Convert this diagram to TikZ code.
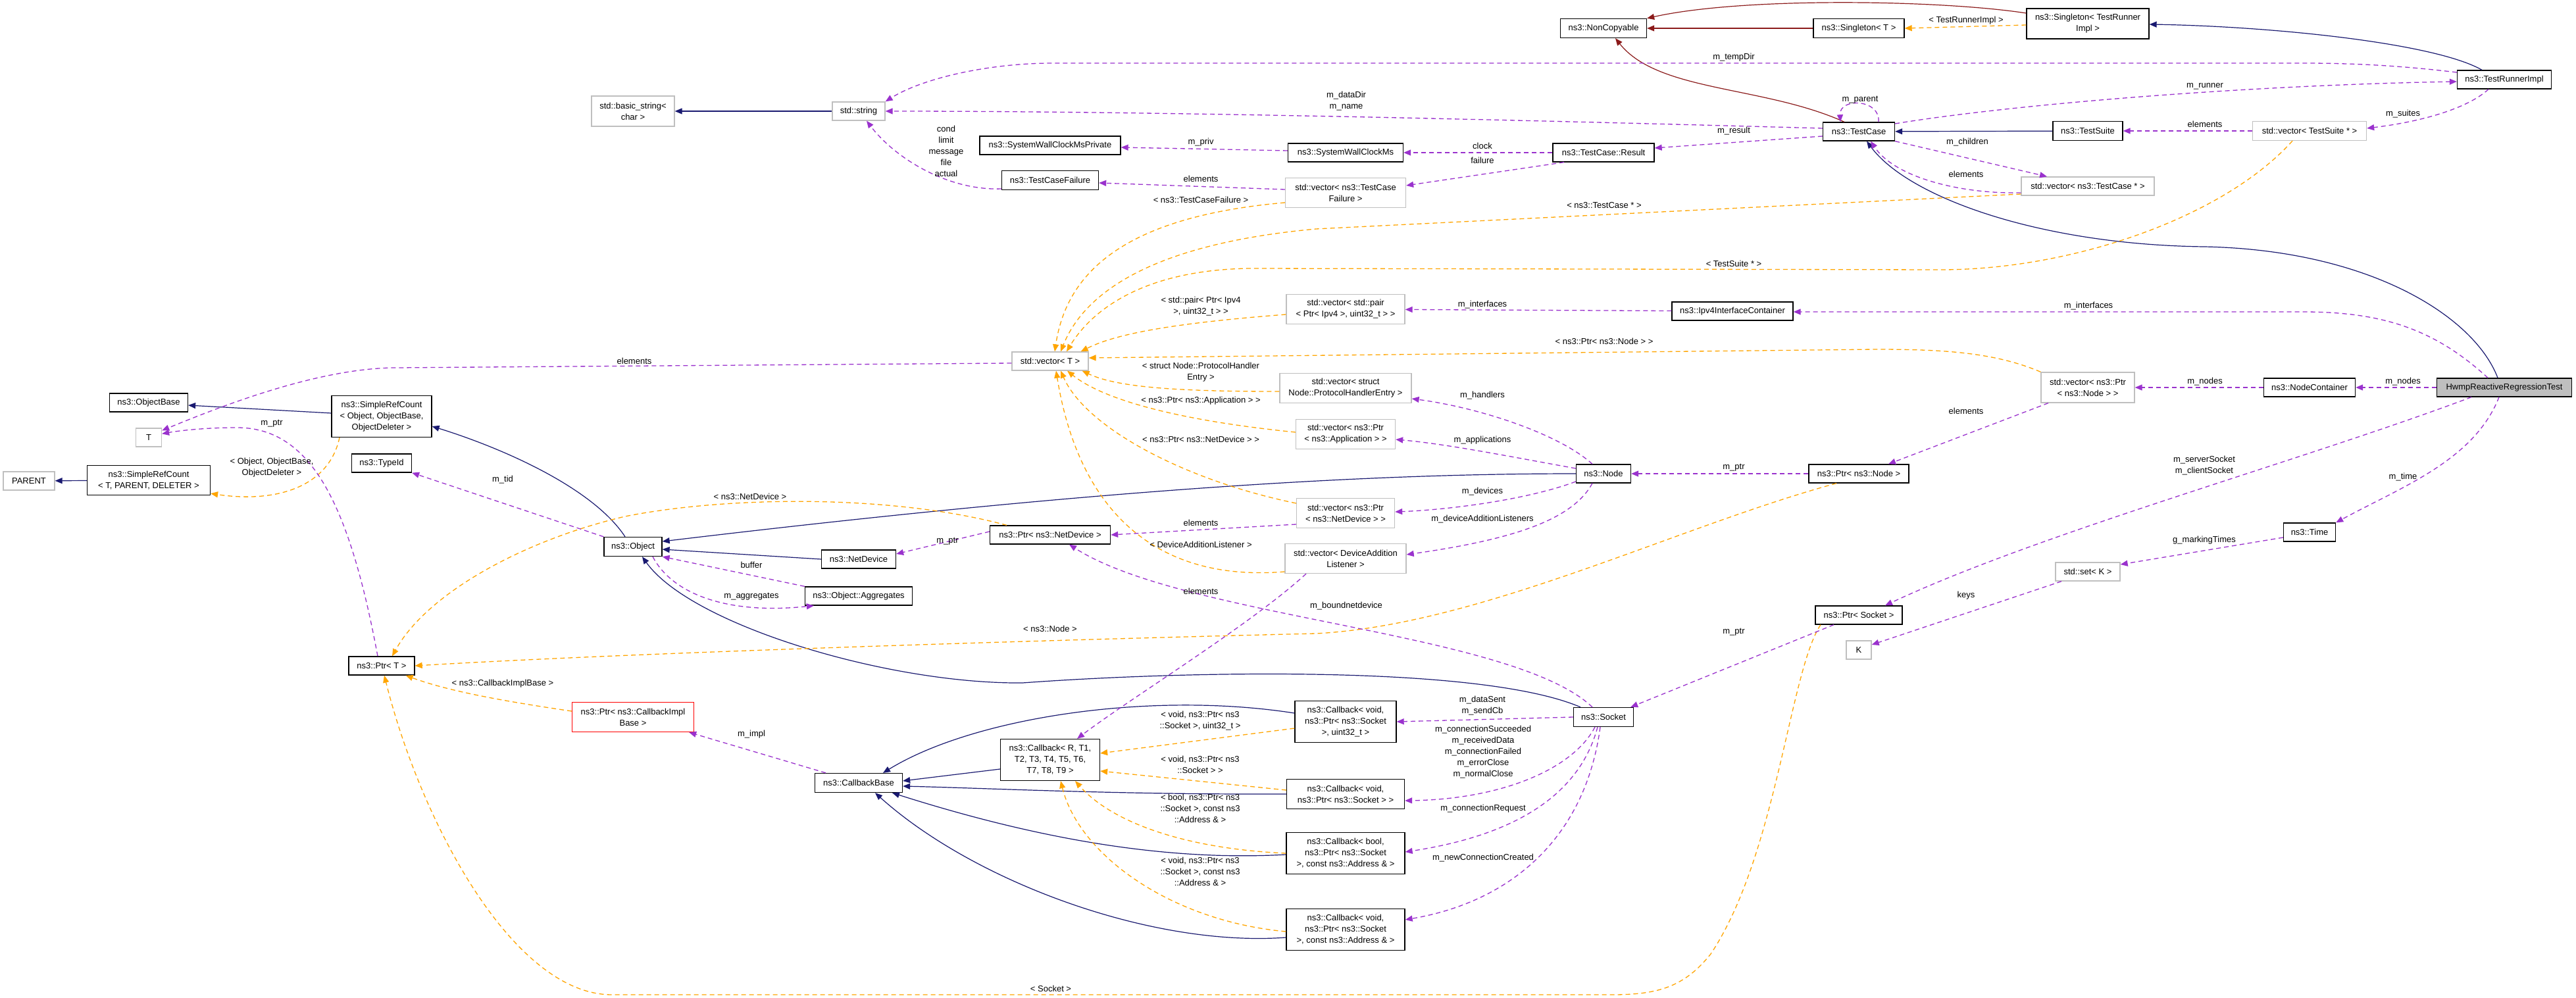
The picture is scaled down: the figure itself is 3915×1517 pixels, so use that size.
\documentclass[tikz,border=0pt]{standalone}
\usepackage{fontspec}
\setmainfont{Liberation Sans}
\usepackage{tikz}
\usetikzlibrary{arrows.meta,positioning}
\definecolor{Navy}{RGB}{25,25,112}
\definecolor{Orchid}{RGB}{154,50,205}
\definecolor{Amber}{RGB}{255,165,0}
\definecolor{Brick}{RGB}{139,26,26}
\definecolor{Ash}{RGB}{191,191,191}

\begin{document}
\begin{tikzpicture}[x=1pt,y=-1pt,
  font=\fontsize{13}{17}\selectfont,
  cls/.style={draw=black,line width=1.3pt,fill=white,align=center,inner sep=3pt,minimum height=28pt},
  ext/.style={cls,draw=Ash},
  sz/.style 2 args={minimum width=#1pt,minimum height=#2pt},
  lab/.style={align=center,inner sep=0pt},
  inh/.style={Navy,line width=1.2pt,-{Triangle[length=11pt,width=9pt]}},
  prv/.style={Brick,line width=1.2pt,-{Triangle[length=11pt,width=9pt]}},
  usg/.style={Orchid,line width=1.3pt,dash pattern=on 7pt off 5pt,-{Triangle[length=11pt,width=9pt]}},
  tpl/.style={Amber,line width=1.3pt,dash pattern=on 7pt off 5pt,-{Triangle[length=11pt,width=9pt]}}]
\fill[white,use as bounding box] (0,0) rectangle (3915,1517);
%
% classes
\node[ext,sz={126}{46}] (bstr) at (962,169) {std::basic\_string<\\char >};
\node[ext,sz={80}{28}] (str) at (1305,169) {std::string};
\node[cls,sz={214}{28}] (swcmp) at (1596,221) {ns3::SystemWallClockMsPrivate};
\node[cls,sz={147}{29}] (tcf) at (1596,274) {ns3::TestCaseFailure};
\node[cls,sz={131}{29}] (noncp) at (2437,43) {ns3::NonCopyable};
\node[cls,sz={138}{29}] (sgt) at (2825,43) {ns3::Singleton< T >};
\node[cls,sz={186}{46}] (sgtr) at (3173,36) {ns3::Singleton< TestRunner\\Impl >};
\node[cls,sz={143}{28}] (tri) at (3806,121) {ns3::TestRunnerImpl};
\node[cls,sz={109}{28}] (tc) at (2825,200) {ns3::TestCase};
\node[cls,sz={154}{28}] (tcr) at (2437,232) {ns3::TestCase::Result};
\node[cls,sz={175}{28}] (swcm) at (2045,232) {ns3::SystemWallClockMs};
\node[ext,sz={183}{45}] (vtcf) at (2045,293) {std::vector< ns3::TestCase\\Failure >};
\node[cls,sz={106}{29}] (ts) at (3173,199) {ns3::TestSuite};
\node[ext,sz={173}{29}] (vts) at (3510,199) {std::vector< TestSuite * >};
\node[ext,sz={202}{28}] (vtc) at (3173,283) {std::vector< ns3::TestCase * >};
\node[ext,sz={180}{45}] (vpair) at (2045,470) {std::vector< std::pair\\< Ptr< Ipv4 >, uint32\_t > >};
\node[cls,sz={184}{28}] (ipv4) at (2633,473) {ns3::Ipv4InterfaceContainer};
\node[ext,sz={116}{28}] (vt) at (1596,549) {std::vector< T >};
\node[ext,sz={142}{46}] (vnode) at (3173,589) {std::vector< ns3::Ptr\\< ns3::Node > >};
\node[cls,sz={139}{28}] (nc) at (3510,589) {ns3::NodeContainer};
\node[cls,sz={205}{28},fill=Ash] (hwmp) at (3806,589) {HwmpReactiveRegressionTest};
\node[ext,sz={200}{45}] (vhdl) at (2045,590) {std::vector< struct\\Node::ProtocolHandlerEntry >};
\node[ext,sz={151}{45}] (vapp) at (2045,660) {std::vector< ns3::Ptr\\< ns3::Application > >};
\node[cls,sz={83}{28}] (node) at (2437,720) {ns3::Node};
\node[cls,sz={152}{28}] (pnode) at (2825,720) {ns3::Ptr< ns3::Node >};
\node[ext,sz={149}{45}] (vdev) at (2045,780) {std::vector< ns3::Ptr\\< ns3::NetDevice > >};
\node[ext,sz={184}{45}] (vdal) at (2045,849) {std::vector< DeviceAddition\\Listener >};
\node[cls,sz={79}{28}] (time) at (3510,809) {ns3::Time};
\node[ext,sz={98}{28}] (setk) at (3173,869) {std::set< K >};
\node[cls,sz={132}{28}] (psock) at (2825,935) {ns3::Ptr< Socket >};
\node[ext,sz={38}{28}] (kk) at (2825,988) {K};
\node[cls,sz={183}{28}] (pdev) at (1596,813) {ns3::Ptr< ns3::NetDevice >};
\node[cls,sz={113}{28}] (ndev) at (1305,850) {ns3::NetDevice};
\node[cls,sz={163}{28}] (aggr) at (1305,906) {ns3::Object::Aggregates};
\node[cls,sz={88}{29}] (obj) at (962,831) {ns3::Object};
\node[cls,sz={119}{28}] (obase) at (226,612) {ns3::ObjectBase};
\node[cls,sz={152}{63}] (srco) at (580,633) {ns3::SimpleRefCount\\< Object, ObjectBase,\\ObjectDeleter >};
\node[ext,sz={39}{28}] (tt) at (226,665) {T};
\node[cls,sz={91}{28}] (tid) at (580,704) {ns3::TypeId};
\node[ext,sz={78}{28}] (parent) at (44,731) {PARENT};
\node[cls,sz={187}{45}] (srct) at (226,730) {ns3::SimpleRefCount\\< T, PARENT, DELETER >};
\node[cls,sz={100}{28}] (ptrt) at (580,1012) {ns3::Ptr< T >};
\node[cls,sz={185}{45},draw=red] (pcib) at (962,1090) {ns3::Ptr< ns3::CallbackImpl\\Base >};
\node[cls,sz={133}{29}] (cbb) at (1305,1190) {ns3::CallbackBase};
\node[cls,sz={151}{63}] (cbr) at (1596,1155) {ns3::Callback< R, T1,\\T2, T3, T4, T5, T6,\\T7, T8, T9 >};
\node[cls,sz={154}{63}] (cbsent) at (2045,1097) {ns3::Callback< void,\\ns3::Ptr< ns3::Socket\\>, uint32\_t >};
\node[cls,sz={179}{45}] (cbsock) at (2045,1207) {ns3::Callback< void,\\ns3::Ptr< ns3::Socket > >};
\node[cls,sz={180}{63}] (cbreq) at (2045,1297) {ns3::Callback< bool,\\ns3::Ptr< ns3::Socket\\>, const ns3::Address \& >};
\node[cls,sz={180}{63}] (cbnew) at (2045,1413) {ns3::Callback< void,\\ns3::Ptr< ns3::Socket\\>, const ns3::Address \& >};
\node[cls,sz={91}{29}] (sock) at (2437,1090) {ns3::Socket};
%
% public inheritance
\draw[inh] (str) -- (bstr);
\draw[inh] (ts) -- (tc);
\draw[inh] (ndev.west) -- ([yshift=-4pt]obj.east);
\draw[inh] (node.west) .. controls (2100,720) and (1700,740) .. ([yshift=8pt]obj.east);
\draw[inh] ([yshift=-14pt]cbr.west) -- ([yshift=3pt]cbb.east);
\draw[inh] (cbsock.west) .. controls (1700,1208) and (1500,1198) .. ([yshift=-5pt]cbb.east);
\draw[inh] ([yshift=13pt]cbsent.west) .. controls (1750,1050) and (1480,1090) .. ([xshift=37pt]cbb.north);
\draw[inh] ([yshift=-2pt]cbreq.west) .. controls (1760,1310) and (1560,1270) .. ([xshift=51pt]cbb.south);
\draw[inh] ([yshift=-12pt]cbnew.west) .. controls (1750,1440) and (1480,1340) .. ([xshift=25pt]cbb.south);
\draw[inh] ([xshift=-12pt]obj.north) .. controls (900,740) and (760,680) .. ([yshift=-15pt]srco.east);
\draw[inh] ([yshift=5pt]srco.west) -- ([yshift=-4pt]obase.east);
\draw[inh] (srct) -- (parent);
\draw[inh] ([xshift=-34pt]tri.north) .. controls (3700,65) and (3450,40) .. ([yshift=-1pt]sgtr.east);
\draw[inh] ([xshift=-10pt]hwmp.north) .. controls (3760,480) and (3600,380) .. (3350,375) .. controls (3100,372) and (2900,300) .. ([xshift=12pt]tc.south);
\draw[inh] ([xshift=-35pt]sock.north) .. controls (2250,1010) and (1800,1020) .. (1554,1038) .. controls (1350,1040) and (1050,950) .. ([xshift=14pt]obj.south);
%
% private inheritance
\draw[prv] (sgt) -- (noncp);
\draw[prv] ([xshift=-22pt]tc.north) .. controls (2680,130) and (2520,140) .. ([xshift=18pt]noncp.south);
\draw[prv] ([yshift=16pt]sgtr.west) .. controls (2950,0) and (2650,-5) .. (noncp.north east);
%
% template instances
\draw[tpl] ([yshift=-2pt]sgtr.west) -- (sgt.east);
\draw[tpl] ([yshift=-15pt]vtcf.west) .. controls (1700,330) and (1620,420) .. ([xshift=7pt]vt.north);
\draw[tpl] ([yshift=-12pt]vtc.west) -- (2000,348) .. controls (1760,370) and (1650,440) .. ([xshift=16pt]vt.north);
\draw[tpl] ([xshift=-26pt]vts.south) .. controls (3380,330) and (3150,410) .. (2950,410) -- (1900,408) .. controls (1740,410) and (1660,470) .. ([xshift=25pt]vt.north);
\draw[tpl] ([yshift=-8pt]vpair.west) .. controls (1800,490) and (1700,505) .. ([xshift=-12pt]vt.north east);
\draw[tpl] (vnode.north west) .. controls (3030,535) and (2950,531) .. (2850,531) -- ([yshift=5pt]vt.east);
\draw[tpl] ([yshift=-5pt]vhdl.west) .. controls (1800,595) and (1700,590) .. ([xshift=-10pt]vt.south east);
\draw[tpl] ([yshift=3pt]vapp.west) .. controls (1800,640) and (1680,610) .. ([xshift=26pt]vt.south);
\draw[tpl] ([yshift=15pt]vdev.west) .. controls (1800,730) and (1650,650) .. ([xshift=16pt]vt.south);
\draw[tpl] ([yshift=-20pt]vdal.west) .. controls (1760,885) and (1640,780) .. ([xshift=9pt]vt.south);
\draw[tpl] ([xshift=-66pt]pdev.north) .. controls (1350,750) and (1100,755) .. (950,785) .. controls (800,820) and (650,900) .. ([xshift=16pt]ptrt.north);
\draw[tpl] ([xshift=-64pt]srco.south) .. controls (500,740) and (420,765) .. ([yshift=3pt]srct.south east);
\draw[tpl] ([xshift=-34pt]pnode.south) .. controls (2550,800) and (2250,950) .. (2000,963) .. controls (1700,970) and (1000,990) .. (ptrt.east);
\draw[tpl] ([xshift=-58pt]psock.south) .. controls (2720,1020) and (2700,1300) .. (2600,1450) .. controls (2560,1500) and (2520,1512) .. (2450,1512) -- (930,1512) .. controls (780,1512) and (640,1250) .. ([xshift=4pt]ptrt.south);
\draw[tpl] ([yshift=9pt]pcib.west) .. controls (760,1065) and (680,1050) .. ([xshift=-14pt]ptrt.south east);
\draw[tpl] ([yshift=-10pt]cbsent.west) -- ([yshift=10pt]cbr.east);
\draw[tpl] ([yshift=6pt]cbsock.west) -- ([yshift=-17pt]cbr.east);
\draw[tpl] (cbreq.west) .. controls (1800,1290) and (1690,1250) .. ([xshift=38pt]cbr.south);
\draw[tpl] ([yshift=-3pt]cbnew.west) .. controls (1780,1400) and (1640,1300) .. ([xshift=16pt]cbr.south);
%
% usage
\draw[usg] ([yshift=5pt]tc.west) .. controls (2400,185) and (1800,169) .. (str.east);
\draw[usg] ([yshift=11pt]tri.west) .. controls (3650,100) and (3580,96) .. (3500,96) -- (1600,96) .. controls (1500,96) and (1400,120) .. (str.north east);
\draw[usg] ([yshift=-13pt]tcf.west) .. controls (1440,290) and (1360,240) .. ([xshift=12pt]str.south);
\draw[usg] ([yshift=3pt]swcm.west) -- ([yshift=-3pt]swcmp.east);
\draw[usg] ([yshift=5pt]vtcf.west) -- ([yshift=-4pt]tcf.east);
\draw[usg] (tcr) -- (swcm);
\draw[usg] ([xshift=-60pt]tcr.south) -- ([yshift=11pt]vtcf.east);
\draw[usg] ([yshift=-7pt]tc.west) -- ([yshift=7pt]tcr.east);
\draw[usg] ([xshift=30pt]tc.north) .. controls (2858,150) and (2795,148) .. ([xshift=-28pt]tc.north);
\draw[usg] ([yshift=12pt]tc.east) .. controls (3050,160) and (3400,130) .. ([yshift=-3pt]tri.west);
\draw[usg] (vts) -- (ts);
\draw[usg] ([xshift=-24pt]tri.south) .. controls (3750,165) and (3680,185) .. ([yshift=4pt]vts.east);
\draw[usg] (tc.south east) -- ([xshift=-62pt]vtc.north);
\draw[usg] ([yshift=-10pt]vtc.west) .. controls (2980,295) and (2880,270) .. ([xshift=18pt]tc.south);
\draw[usg] (ipv4) -- (vpair);
\draw[usg] ([xshift=-25pt]hwmp.north) .. controls (3700,500) and (3620,474) .. (3500,474) -- ([yshift=-1pt]ipv4.east);
\draw[usg] ([yshift=-3pt]vt.west) -- (600,559) .. controls (480,560) and (330,620) .. ([yshift=-4pt]tt.north east);
\draw[usg] ([xshift=-6pt]ptrt.north) .. controls (530,760) and (470,650) .. (360,650) .. controls (310,650) and (270,655) .. ([yshift=-9pt]tt.north east);
\draw[usg] (obj.north west) -- (tid.south east);
\draw[usg] (aggr.north west) -- (obj.south east);
\draw[usg] ([xshift=30pt]obj.south) .. controls (1020,900) and (1100,935) .. ([xshift=14pt]aggr.south west);
\draw[usg] ([yshift=5pt]pdev.west) -- ([yshift=8pt]ndev.east);
\draw[usg] ([yshift=-17pt]vdev.west) -- (pdev.east);
\draw[usg] ([xshift=-17pt]sock.north) .. controls (2300,960) and (1800,940) .. ([xshift=29pt]pdev.south);
\draw[usg] ([xshift=-17pt]node.north) .. controls (2370,660) and (2250,620) .. ([yshift=-16pt]vhdl.east);
\draw[usg] ([yshift=8pt]node.west) .. controls (2300,695) and (2200,675) .. ([yshift=-8pt]vapp.east);
\draw[usg] ([yshift=-12pt]node.west) .. controls (2320,760) and (2200,775) .. ([yshift=2pt]vdev.east);
\draw[usg] ([xshift=-17pt]node.south) .. controls (2390,790) and (2300,820) .. ([yshift=6pt]vdal.east);
\draw[usg] (pnode) -- (node);
\draw[usg] ([xshift=-60pt]vnode.south) -- ([xshift=45pt]pnode.north);
\draw[usg] (nc) -- (vnode);
\draw[usg] (hwmp) -- (nc);
\draw[usg] ([xshift=-50pt]hwmp.south) .. controls (3500,700) and (3100,810) .. ([xshift=40pt]psock.north);
\draw[usg] ([xshift=-8pt]hwmp.south) .. controls (3760,700) and (3650,740) .. (time.north east);
\draw[usg] ([yshift=-8pt]time.west) -- ([yshift=11pt]setk.east);
\draw[usg] ([xshift=-40pt]setk.south) -- ([yshift=8pt]kk.east);
\draw[usg] ([xshift=-38pt]psock.south) -- ([xshift=-5pt]sock.north east);
\draw[usg] (sock.west) -- (cbsent.east);
\draw[usg] ([xshift=-13pt]sock.south) .. controls (2390,1170) and (2280,1215) .. ([yshift=-10pt]cbsock.east);
\draw[usg] ([xshift=-9pt]sock.south) .. controls (2400,1210) and (2300,1270) .. ([yshift=2pt]cbreq.east);
\draw[usg] ([xshift=-5pt]sock.south) .. controls (2410,1270) and (2300,1370) .. ([yshift=15pt]cbnew.east);
\draw[usg] ([xshift=-60pt]vdal.south) .. controls (1900,950) and (1720,1060) .. ([xshift=41pt]cbr.north);
\draw[usg] ([xshift=-50pt]cbb.north) -- ([xshift=-8pt]pcib.south east);
%
% edge labels
\node[lab] (l-trimpl) at (2988,31) {< TestRunnerImpl >};
\node[lab] (l-tempdir) at (2635,87) {m\_tempDir};
\node[lab] (l-datadir) at (2046,154) {m\_dataDir\\m\_name};
\node[lab] (l-parent) at (2827,152) {m\_parent};
\node[lab] (l-result) at (2635,199) {m\_result};
\node[lab] (l-runner) at (3351,131) {m\_runner};
\node[lab] (l-suites) at (3652,173) {m\_suites};
\node[lab] (l-elts) at (3351,189) {elements};
\node[lab] (l-children) at (2990,216) {m\_children};
\node[lab] (l-eltc) at (2988,265) {elements};
\node[lab] (l-clock) at (2253,222) {clock};
\node[lab] (l-failure) at (2253,244) {failure};
\node[lab] (l-priv) at (1825,216) {m\_priv};
\node[lab] (l-eltf) at (1825,272) {elements};
\node[lab] (l-cond) at (1438,230) {cond\\limit\\message\\file\\actual};
\node[lab] (l-ttcf) at (1825,304) {< ns3::TestCaseFailure >};
\node[lab] (l-ttc) at (2438,312) {< ns3::TestCase * >};
\node[lab] (l-tts) at (2635,401) {< TestSuite * >};
\node[lab] (l-ifa) at (2253,463) {m\_interfaces};
\node[lab] (l-ifb) at (3174,465) {m\_interfaces};
\node[lab] (l-tpair) at (1825,466) {< std::pair< Ptr< Ipv4\\>, uint32\_t > >};
\node[lab] (l-tnode) at (2438,519) {< ns3::Ptr< ns3::Node > >};
\node[lab] (l-eltt) at (964,549) {elements};
\node[lab] (l-thdl) at (1825,566) {< struct Node::ProtocolHandler\\Entry >};
\node[lab] (l-nodesa) at (3351,580) {m\_nodes};
\node[lab] (l-nodesb) at (3652,580) {m\_nodes};
\node[lab] (l-handlers) at (2253,601) {m\_handlers};
\node[lab] (l-tapp) at (1825,609) {< ns3::Ptr< ns3::Application > >};
\node[lab] (l-eltn) at (2988,625) {elements};
\node[lab] (l-ptrt) at (413,644) {m\_ptr};
\node[lab] (l-apps) at (2253,669) {m\_applications};
\node[lab] (l-tdev) at (1825,668) {< ns3::Ptr< ns3::NetDevice > >};
\node[lab] (l-socks) at (3350,708) {m\_serverSocket\\m\_clientSocket};
\node[lab] (l-tobj) at (413,711) {< Object, ObjectBase,\\ObjectDeleter >};
\node[lab] (l-ptrn) at (2635,711) {m\_ptr};
\node[lab] (l-time) at (3652,725) {m\_time};
\node[lab] (l-tid) at (764,729) {m\_tid};
\node[lab] (l-devices) at (2253,747) {m\_devices};
\node[lab] (l-tnetdev) at (1140,755) {< ns3::NetDevice >};
\node[lab] (l-dal) at (2253,789) {m\_deviceAdditionListeners};
\node[lab] (l-eltd) at (1825,795) {elements};
\node[lab] (l-marking) at (3350,821) {g\_markingTimes};
\node[lab] (l-ptrd) at (1440,823) {m\_ptr};
\node[lab] (l-tdal) at (1825,828) {< DeviceAdditionListener >};
\node[lab] (l-buffer) at (1142,859) {buffer};
\node[lab] (l-eltl) at (1825,899) {elements};
\node[lab] (l-keys) at (2988,905) {keys};
\node[lab] (l-aggr) at (1142,907) {m\_aggregates};
\node[lab] (l-bound) at (2046,921) {m\_boundnetdevice};
\node[lab] (l-tnodeb) at (1596,956) {< ns3::Node >};
\node[lab] (l-ptrs) at (2635,961) {m\_ptr};
\node[lab] (l-tcib) at (764,1039) {< ns3::CallbackImplBase >};
\node[lab] (l-sent) at (2253,1073) {m\_dataSent\\m\_sendCb};
\node[lab] (l-tsent) at (1824,1096) {< void, ns3::Ptr< ns3\\::Socket >, uint32\_t >};
\node[lab] (l-conn) at (2254,1143) {m\_connectionSucceeded\\m\_receivedData\\m\_connectionFailed\\m\_errorClose\\m\_normalClose};
\node[lab] (l-impl) at (1142,1116) {m\_impl};
\node[lab] (l-tsock) at (1824,1162) {< void, ns3::Ptr< ns3\\::Socket > >};
\node[lab] (l-treq) at (1824,1229) {< bool, ns3::Ptr< ns3\\::Socket >, const ns3\\::Address \& >};
\node[lab] (l-req) at (2254,1229) {m\_connectionRequest};
\node[lab] (l-new) at (2254,1304) {m\_newConnectionCreated};
\node[lab] (l-tnew) at (1824,1325) {< void, ns3::Ptr< ns3\\::Socket >, const ns3\\::Address \& >};
\node[lab] (l-tsocket) at (1597,1503) {< Socket >};
%
\end{tikzpicture}
\end{document}
